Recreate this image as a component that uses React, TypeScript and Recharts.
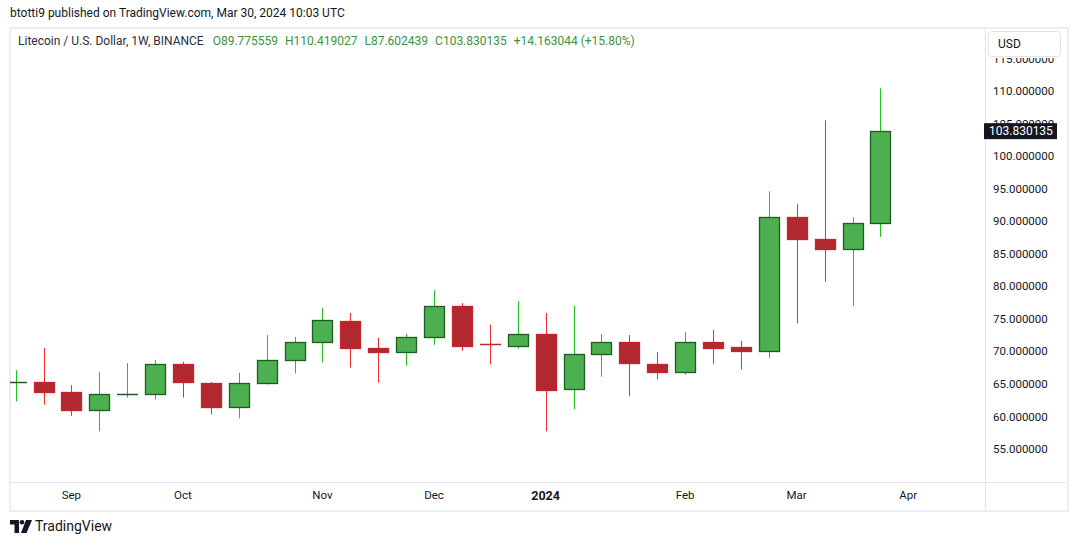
import React from "react";
import { ComposedChart, Bar, XAxis, YAxis } from "recharts";

// weekly LTC/USD candles, week of 2023-08-21 .. 2024-03-25
const OPEN = [
  65.3, 65.3, 63.7, 61.0, 63.35, 63.4, 68.0, 65.1, 61.4, 65.1, 68.6, 71.5,
  74.6, 70.5, 69.9, 72.2, 76.9, 71.1, 70.9, 72.6, 64.2, 69.6, 71.5, 68.0,
  66.8, 71.4, 70.6, 70.0, 90.6, 87.2, 85.7, 89.775559,
];
const HIGH = [
  67.1, 70.5, 64.8, 66.8, 68.2, 68.7, 68.4, 65.3, 66.7, 72.5, 72.2, 76.7,
  75.9, 72.1, 72.7, 79.4, 77.4, 74.1, 77.7, 75.9, 77.0, 72.7, 72.5, 69.9,
  73.0, 73.3, 71.6, 94.6, 92.6, 105.5, 90.6, 110.419027,
];
const LOW = [
  62.3, 61.8, 60.1, 57.7, 62.9, 62.6, 62.9, 60.3, 59.7, 64.9, 66.6, 68.3,
  67.5, 65.2, 67.8, 71.0, 70.1, 68.0, 70.4, 57.7, 61.1, 66.1, 63.1, 65.7,
  66.4, 68.1, 67.2, 69.0, 74.3, 80.7, 77.0, 87.602439,
];
const CLOSE = [
  65.35, 63.7, 60.95, 63.4, 63.4, 68.0, 65.3, 61.5, 65.1, 68.6, 71.5, 74.8,
  70.5, 69.9, 72.2, 76.9, 70.9, 71.05, 72.6, 64.0, 69.6, 71.5, 68.2, 66.8,
  71.4, 70.5, 70.0, 90.6, 87.2, 85.7, 89.667091, 103.830135,
];

const MONTH_TICKS = [2, 6, 11, 15, 19, 24, 28, 32];
const MONTH_LABELS = ["Sep", "Oct", "Nov", "Dec", "2024", "Feb", "Mar", "Apr"];
const PRICE_TICKS = [55, 60, 65, 70, 75, 80, 85, 90, 95, 100, 105, 110, 115];

const data = OPEN.map((o, i) => ({
  i,
  open: o,
  high: HIGH[i],
  low: LOW[i],
  close: CLOSE[i],
  range: [LOW[i], HIGH[i]],
}));

const last = data[data.length - 1];
const prevClose = CLOSE[CLOSE.length - 2];
const change = last.close - prevClose;
const changePct = (change / prevClose) * 100;

// last price goes at the end so its tag is painted over the regular labels
const axisTicks = [...PRICE_TICKS, last.close];

const FONT = "Roboto, 'Liberation Sans', sans-serif";
const INK = "#131722";
const LINE = "#e0e3eb";
const UP = { body: "#4caf50", border: "#1b5e20", wick: "#1cc41c" };
const DOWN = { body: "#b2282f", border: "#c4242b", wick: "#ef2b2b" };

function Candle(props: any) {
  const { x, y, width, height, payload } = props;
  if (!payload || width == null) return null;
  const { open, close, high, low } = payload;
  const c = close >= open ? UP : DOWN;
  const top = Math.min(y, y + height);
  const h = Math.abs(height);
  const py = (v: number) => top + ((high - v) / (high - low)) * h;
  const cx = Math.round(x + width / 2) + 0.5;
  const left = Math.round(x);
  const right = Math.round(x + width);
  const bTop = Math.round(py(Math.max(open, close))) + 0.5;
  const bBot = Math.round(py(Math.min(open, close))) + 0.5;
  return (
    <g>
      <line x1={cx} x2={cx} y1={top} y2={top + h} stroke={c.wick} strokeWidth={1} />
      {bBot - bTop < 2 ? (
        <line x1={left} x2={right + 1} y1={bTop} y2={bTop} stroke={c.border} strokeWidth={1.5} />
      ) : (
        <rect
          x={left + 0.5}
          y={bTop}
          width={right - left}
          height={bBot - bTop}
          fill={c.body}
          stroke={c.border}
          strokeWidth={1.3}
        />
      )}
    </g>
  );
}

function PriceTick(props: any) {
  const { x, y, payload, index } = props;
  const isTag = index === axisTicks.length - 1;
  if (isTag) {
    return (
      <g>
        <rect x={x - 9} y={y - 8} width={73} height={16} fill={INK} />
        <text x={x - 4} y={y} dy="0.36em" fill="#fff" fontSize={12} fontFamily={FONT}>
          {payload.value.toFixed(6)}
        </text>
      </g>
    );
  }
  return (
    <text x={x} y={y} dy="0.355em" fill={INK} fontSize={11.5} fontFamily={FONT}>
      {payload.value.toFixed(6)}
    </text>
  );
}

function MonthTick(props: any) {
  const { x, y, payload } = props;
  const idx = MONTH_TICKS.indexOf(payload.value);
  const label = MONTH_LABELS[idx] ?? "";
  const isYear = /^\d{4}$/.test(label);
  return (
    <text
      x={x}
      y={y + 1}
      dy="0.71em"
      textAnchor="middle"
      fill={INK}
      fontSize={isYear ? 12.5 : 11.5}
      fontWeight={isYear ? 700 : 400}
      fontFamily={FONT}
    >
      {label}
    </text>
  );
}

export default function App() {
  const green = "#3a923d";
  return (
    <div
      style={{
        position: "absolute",
        left: 0,
        top: 0,
        width: 1074,
        height: 545,
        background: "#fff",
        fontFamily: FONT,
        color: INK,
        overflow: "hidden",
      }}
    >
      {/* publisher line */}
      <div style={{ position: "absolute", left: 10, top: 6, fontSize: 12 }}>
        btotti9 published on TradingView.com, Mar 30, 2024 10:03 UTC
      </div>

      {/* frame */}
      <div
        style={{
          position: "absolute",
          left: 9,
          top: 27,
          width: 1056,
          height: 481,
          border: "2px solid #eceef3",
        }}
      />
      <div style={{ position: "absolute", left: 985, top: 28, width: 1, height: 481, background: LINE }} />
      <div style={{ position: "absolute", left: 10, top: 482, width: 1056, height: 1, background: LINE }} />

      <ComposedChart
        width={1074}
        height={545}
        data={data}
        margin={{ top: 28, right: 7, bottom: 35, left: 10 }}
        style={{ position: "absolute", left: 0, top: 0 }}
      >
        <XAxis
          dataKey="i"
          type="number"
          domain={[-0.2, 34.75]}
          allowDataOverflow
          ticks={MONTH_TICKS}
          tick={(p: any) => <MonthTick {...p} />}
          axisLine={false}
          tickLine={false}
          height={28}
          interval={0}
        />
        <YAxis
          orientation="right"
          type="number"
          domain={[49.93, 119.68]}
          allowDataOverflow
          ticks={axisTicks}
          tick={(p: any) => <PriceTick {...p} />}
          axisLine={false}
          tickLine={false}
          width={82}
          interval={0}
        />
        <Bar
          dataKey="range"
          barSize={20}
          isAnimationActive={false}
          shape={(p: any) => <Candle {...p} />}
        />
      </ComposedChart>

      {/* legend */}
      <div
        style={{
          position: "absolute",
          left: 18,
          top: 34,
          fontSize: 12,
          whiteSpace: "nowrap",
          display: "flex",
          gap: 7,
        }}
      >
        <span style={{ color: "#2a2e39" }}>Litecoin / U.S. Dollar, 1W, BINANCE</span>
        <span style={{ color: green, marginLeft: 2 }}>O{last.open.toFixed(6)}</span>
        <span style={{ color: green }}>H{last.high.toFixed(6)}</span>
        <span style={{ color: green }}>L{last.low.toFixed(6)}</span>
        <span style={{ color: green }}>C{last.close.toFixed(6)}</span>
        <span style={{ color: green }}>
          +{change.toFixed(6)} (+{changePct.toFixed(2)}%)
        </span>
      </div>

      {/* currency box */}
      <div
        style={{
          position: "absolute",
          left: 986,
          top: 29,
          width: 78,
          height: 29,
          background: "#fff",
        }}
      />
      <div
        style={{
          position: "absolute",
          left: 988,
          top: 31,
          width: 62,
          height: 24,
          border: "1px solid #e0e3eb",
          borderRadius: 4,
          background: "#fff",
          fontSize: 12,
          lineHeight: "24px",
          paddingLeft: 9,
          boxSizing: "content-box",
        }}
      >
        USD
      </div>

      {/* footer logo */}
      <div style={{ position: "absolute", left: 10, top: 518, display: "flex", alignItems: "center", gap: 3 }}>
        <svg width={22} height={13} viewBox="0 0 22 13">
          <path d="M0 0h9v13H4.5V4.5H0z" fill={INK} />
          <circle cx={12} cy={2.3} r={2.3} fill={INK} />
          <path d="M16 0h6l-5.5 13h-5.5z" fill={INK} />
        </svg>
        <span style={{ fontSize: 14, color: INK }}>TradingView</span>
      </div>
    </div>
  );
}
